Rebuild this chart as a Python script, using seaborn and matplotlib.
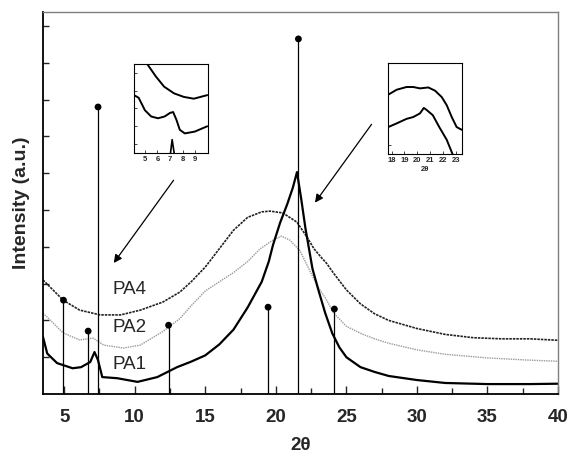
import numpy as np
import pandas as pd
import seaborn as sns
import matplotlib.pyplot as plt
from matplotlib.ticker import MultipleLocator

# main XRD patterns (2theta, intensity a.u.)
pa1_x = [3.5, 3.8, 4.5, 5.6, 6.2, 6.85, 7.15, 7.4, 7.7, 8.75, 10.2, 11.6, 13.0, 14.0, 15.0,
         16.0, 17.0, 18.0, 19.0, 19.5, 19.8, 20.3, 20.8, 21.2, 21.5, 21.8, 22.1, 22.6, 23.0,
         23.5, 24.0, 24.5, 25.0, 26.0, 27.0, 28.0, 30.0, 32.0, 35.0, 38.0, 40.0]
pa1_y = [1.55, 1.10, 0.84, 0.70, 0.73, 0.87, 1.14, 0.92, 0.46, 0.43, 0.33, 0.46, 0.73, 0.88, 1.05,
         1.35, 1.75, 2.35, 3.05, 3.60, 4.05, 4.65, 5.15, 5.60, 6.03, 5.30, 4.50, 3.40, 2.85,
         2.20, 1.65, 1.27, 1.00, 0.73, 0.60, 0.49, 0.38, 0.30, 0.27, 0.27, 0.28]

pa2_x = [3.5, 4.93, 6.1, 7.05, 7.8, 9.2, 10.4, 12.0, 13.2, 14.0, 15.0, 16.0, 17.0, 18.0,
         18.9, 19.8, 20.4, 21.0, 21.7, 22.6, 23.0, 23.5, 24.1, 25.0, 26.0, 27.0, 28.0, 30.0,
         32.0, 35.0, 38.0, 40.0]
pa2_y = [2.20, 1.66, 1.47, 1.52, 1.33, 1.25, 1.33, 1.70, 2.05, 2.40, 2.80, 3.05, 3.30, 3.60,
         3.95, 4.18, 4.29, 4.18, 3.90, 3.20, 2.90, 2.62, 2.20, 1.84, 1.65, 1.50, 1.38, 1.20,
         1.08, 0.98, 0.92, 0.89]

pa4_x = [3.5, 4.93, 6.1, 7.55, 9.0, 10.4, 12.0, 13.2, 14.0, 15.0, 16.0, 17.0, 18.0, 19.0,
         19.6, 20.5, 21.5, 22.2, 22.7, 23.2, 23.6, 24.1, 25.0, 26.0, 27.0, 28.0, 30.0, 32.0,
         34.0, 36.0, 38.0, 40.0]
pa4_y = [3.10, 2.55, 2.28, 2.15, 2.15, 2.28, 2.50, 2.77, 3.05, 3.45, 3.95, 4.45, 4.80, 4.95,
         4.97, 4.92, 4.67, 4.27, 3.95, 3.72, 3.55, 3.28, 2.83, 2.45, 2.18, 2.00, 1.78, 1.62,
         1.53, 1.50, 1.50, 1.46]

# reference reflections (stick pattern)
stem_x = [4.95, 6.7, 7.4, 12.4, 19.45, 21.6, 24.15]
stem_y = [2.55, 1.71, 7.80, 1.87, 2.36, 9.65, 2.31]

series_names = ["PA4", "PA2", "PA1"]
label_y = [2.83, 1.81, 0.80]

# insets (normalised intensity)
in1_top_x = [5.18, 5.87, 6.53, 7.32, 8.1, 8.9, 9.97]
in1_top_y = [1.00, 0.86, 0.745, 0.67, 0.63, 0.61, 0.65]
in1_low_x = [4.13, 4.5, 5.0, 5.5, 6.04, 6.57, 7.0, 7.25, 7.52, 7.78, 8.18, 8.97, 9.97]
in1_low_y = [0.65, 0.62, 0.48, 0.41, 0.39, 0.41, 0.45, 0.46, 0.37, 0.26, 0.22, 0.24, 0.30]
in1_peak_x = [7.04, 7.17, 7.33]
in1_peak_y = [0.0, 0.15, 0.0]

in2_top_x = [17.74, 18.39, 19.16, 19.68, 20.2, 20.85, 21.37, 21.89, 22.28, 22.67, 23.05, 23.44]
in2_top_y = [0.656, 0.71, 0.74, 0.74, 0.725, 0.735, 0.70, 0.63, 0.54, 0.41, 0.30, 0.27]
in2_low_x = [17.74, 18.39, 19.16, 19.68, 20.2, 20.5, 20.7, 21.2, 21.7, 22.28, 22.74]
in2_low_y = [0.30, 0.34, 0.39, 0.41, 0.45, 0.51, 0.49, 0.43, 0.30, 0.16, 0.0]

sns.set_style("ticks")
plt.rcParams['font.family'] = ['Liberation Sans', 'DejaVu Sans']

fig = plt.figure(figsize=(5.71, 4.58), dpi=100)
ax = fig.add_axes([0.0753, 0.1397, 0.902, 0.834])

sns.lineplot(x=pa4_x, y=pa4_y, ax=ax, color="#222222", lw=1.2, linestyle=(0, (1.5, 0.6)), estimator=None)
sns.lineplot(x=pa2_x, y=pa2_y, ax=ax, color="#9a9a9a", lw=1.0, linestyle=(0, (1.0, 0.7)), estimator=None)
sns.lineplot(x=pa1_x, y=pa1_y, ax=ax, color="black", lw=1.6, estimator=None)

ax.vlines(stem_x, 0, stem_y, color="black", lw=0.9)
sns.scatterplot(x=stem_x, y=stem_y, ax=ax, color="black", s=24, edgecolor="none", zorder=5)

for name, yy in zip(series_names, label_y):
    ax.text(8.4, yy, name, fontsize=13.5, va="center", ha="left")

ax.annotate("", xy=(8.4, 3.5), xytext=(12.87, 5.87),
            arrowprops=dict(arrowstyle="-|>", color="black", lw=0.9, mutation_scale=12))
ax.annotate("", xy=(22.66, 5.14), xytext=(26.9, 7.39),
            arrowprops=dict(arrowstyle="-|>", color="black", lw=0.9, mutation_scale=12))

ax.set_xlim(3.5, 40)
ax.set_ylim(0, 10.38)
ax.set_xticks(range(5, 41, 5))
ax.xaxis.set_minor_locator(MultipleLocator(2.5))
ax.set_yticks(range(1, 11))
ax.set_yticklabels([])
ax.tick_params(axis="x", which="major", direction="in", length=6, width=1, labelsize=13.5, pad=11)
ax.tick_params(axis="x", which="minor", direction="in", length=4, width=1)
ax.tick_params(axis="y", direction="in", length=4, width=1)
for lab in ax.get_xticklabels():
    lab.set_fontweight("bold")
ax.set_xlabel("2θ", fontsize=13.5, fontweight="bold", labelpad=8)
ax.set_ylabel("Intensity (a.u.)", fontsize=14, fontweight="bold", labelpad=6)
for side in ["top", "right"]:
    ax.spines[side].set_color("#7f7f7f")
    ax.spines[side].set_linewidth(1.0)
for side in ["left", "bottom"]:
    ax.spines[side].set_color("black")
    ax.spines[side].set_linewidth(1.3)

# left inset
ins1 = fig.add_axes([0.2347, 0.666, 0.1296, 0.1943])
sns.lineplot(x=in1_top_x, y=in1_top_y, ax=ins1, color="black", lw=1.4, estimator=None)
sns.lineplot(x=in1_low_x, y=in1_low_y, ax=ins1, color="black", lw=1.4, estimator=None)
sns.lineplot(x=in1_peak_x, y=in1_peak_y, ax=ins1, color="black", lw=1.2, estimator=None)
ins1.set_xlim(4.13, 10.03)
ins1.set_ylim(0, 1)
ins1.set_xticks([5, 6, 7, 8, 9])
ins1.set_yticks([0.1, 0.3, 0.5, 0.7, 0.9])
ins1.set_yticklabels([])

# right inset
ins2 = fig.add_axes([0.68, 0.663, 0.1285, 0.1987])
sns.lineplot(x=in2_top_x, y=in2_top_y, ax=ins2, color="black", lw=1.4, estimator=None)
sns.lineplot(x=in2_low_x, y=in2_low_y, ax=ins2, color="black", lw=1.4, estimator=None)
ins2.set_xlim(17.74, 23.44)
ins2.set_ylim(0, 1)
ins2.set_xticks([18, 19, 20, 21, 22, 23])
ins2.set_yticks([0.1])
ins2.set_yticklabels([])
ins2.set_xlabel("2θ", fontsize=5.5, fontweight="bold", labelpad=1)

for a in (ins1, ins2):
    a.tick_params(direction="in", length=2, width=0.6, labelsize=5.5, pad=2)
    for lab in a.get_xticklabels():
        lab.set_fontweight("bold")
    for s in a.spines.values():
        s.set_color("black")
        s.set_linewidth(0.8)

fig.savefig("out.png", dpi=100)
